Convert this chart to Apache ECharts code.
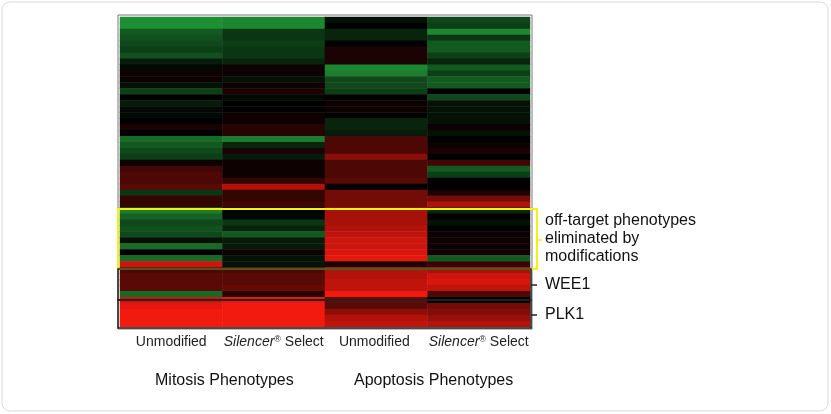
<!DOCTYPE html><html><head><meta charset="utf-8"><script src="https://cdn.jsdelivr.net/npm/echarts@6/dist/echarts.min.js"></script>
<style>html,body{margin:0;background:#fff}#c{width:831px;height:414px}</style></head><body><div id="c"></div><script>
const columns=['Unmodified','Silencer® Select','Unmodified ','Silencer® Select '];
const groups=['Mitosis Phenotypes','Apoptosis Phenotypes'];
const mitosisUnmod=[-0.8,-0.8,-0.5,-0.45,-0.4,-0.35,-0.45,-0.15,-0.05,0.05,0.05,-0.1,-0.35,0,-0.15,-0.05,-0.05,0,0.1,0,-0.6,-0.5,-0.4,-0.35,0.05,0.25,0.3,0.3,0.35,-0.3,0.2,0.2,-0.7,-0.55,-0.4,-0.45,-0.4,-0.1,-0.6,0,-0.6,0.8,0.3,0.35,0.35,0.35,-0.6,0.8,0.9,0.95,0.95,0.95];
const mitosisSel=[-0.75,-0.75,-0.3,-0.3,-0.35,-0.3,-0.3,-0.2,0.05,0.05,-0.1,0.05,0.1,-0.05,0,0,0.05,0.05,0.15,0.15,-0.7,-0.2,0.1,-0.15,0.05,0.05,0.05,0.2,0.7,0.2,0.2,0.25,0,-0.05,-0.3,-0.2,-0.5,-0.15,-0.15,0.05,-0.1,-0.1,0.3,0.35,0.35,0.4,0.15,0.9,0.95,0.95,0.95,0.95];
const apopUnmod=[-0.1,0,-0.2,-0.2,0,0.1,0.1,0.1,-0.75,-0.7,-0.4,-0.4,-0.35,0,0.05,0.05,0,-0.2,-0.2,-0.15,0.3,0.3,0.3,0.55,0.3,0.3,0.3,0.35,0,0.45,0.45,0.45,0.65,0.65,0.65,0.7,0.75,0.8,0.8,0.85,0.9,0.1,0.7,0.7,0.75,0.75,0.95,0.4,0.35,0.55,0.7,0.75];
const apopSel=[-0.4,-0.35,-0.75,-0.3,-0.5,-0.5,-0.35,-0.2,-0.5,-0.35,-0.5,-0.5,0,-0.4,-0.1,-0.1,-0.1,-0.1,0.05,-0.1,0,0.05,0.1,0,0.25,-0.5,-0.35,0,0,0.1,0.45,0.7,-0.2,0,-0.1,0,0.05,0.05,0.05,0.05,-0.5,0.2,0.65,0.8,0.85,0.75,0.3,0,0.45,0.5,0.6,0.7];
const cols=[mitosisUnmod,mitosisSel,apopUnmod,apopSel];
const rows=mitosisUnmod.map((_,i)=>'r'+i);
const data=[];cols.forEach((c,x)=>c.forEach((v,y)=>data.push([x,y,v])));
const F='"Liberation Sans",sans-serif';
const ch=echarts.init(document.getElementById('c'));
const T=(x,y,t)=>({type:'text',left:x,top:y,z:100,style:{text:t,font:'16px '+F,fill:'#111'}});
const R=(x,y,w,h,c,lw)=>({type:'rect',z:100,shape:{x:x,y:y,width:w,height:h},style:{fill:'none',stroke:c,lineWidth:lw}});
const L=(x1,y1,x2,y2,c)=>({type:'line',z:100,shape:{x1:x1,y1:y1,x2:x2,y2:y2},style:{stroke:c,lineWidth:1.5}});
ch.setOption({
grid:{left:120,right:301,top:17,bottom:87},
xAxis:{type:'category',data:columns,axisLine:{show:false},axisTick:{show:false},
 axisLabel:{interval:0,hideOverlap:false,margin:8,fontFamily:F,fontSize:14,color:'#222',formatter:v=>v.indexOf('Silencer')>=0?'{i|Silencer}{s|®} Select':v,
 rich:{i:{fontStyle:'italic',fontFamily:F,fontSize:14,color:'#222'},s:{fontSize:9,verticalAlign:'top',fontFamily:F,color:'#222',padding:[0,0,6,0]}}}},
yAxis:{type:'category',data:rows,inverse:true,show:false},
visualMap:{show:false,min:-1,max:1,dimension:2,inRange:{color:['#26b340','#000000','#ff1a10']}},
series:[{type:'heatmap',data:data,itemStyle:{borderWidth:0}}],
graphic:[
{type:'rect',z:100,shape:{x:2,y:2,width:826,height:409,r:8},style:{fill:'none',stroke:'#d8d8d8',lineWidth:1}},
R(118,15,414,314,'#777',1),
R(118,209,419,60,'#f2f20a',2),
R(118,269,413,31,'#222',1.5),
R(118,300,413,28,'#222',1.5),
L(537,240,542,240,'#f2f20a'),L(531,285,537,285,'#222'),L(531,315,537,315,'#222'),
T(545,213,'off-target phenotypes'),T(545,231,'eliminated by'),T(545,249,'modifications'),
T(545,277,'WEE1'),T(545,307,'PLK1'),
T(155,373,groups[0]),T(354,373,groups[1])
]});
</script></body></html>
